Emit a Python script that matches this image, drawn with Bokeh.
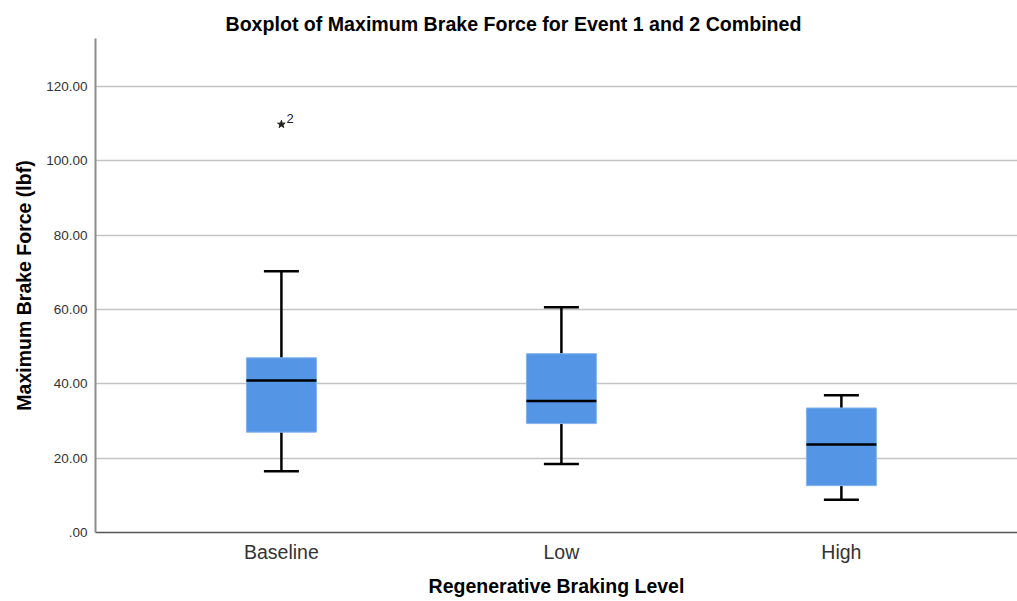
from bokeh.plotting import figure
from bokeh.models import FixedTicker, ColumnDataSource, Label
from bokeh.embed import file_html
from bokeh.resources import INLINE

categories = ["Baseline", "Low", "High"]
whisker_low = [16.5, 18.4, 8.8]
q1 = [27.0, 29.3, 12.6]
median = [40.9, 35.4, 23.7]
q3 = [47.0, 48.1, 33.5]
whisker_high = [70.3, 60.6, 36.9]
outlier_cat = [0]
outlier_val = [109.8]
outlier_label = ["2"]
y_ticks = [0, 20, 40, 60, 80, 100, 120]

xs = [i + 1 for i in range(len(categories))]
box_w = 0.25
cap_w = 0.125

p = figure(width=1017, height=601, output_backend="svg", toolbar_location=None,
           x_range=(0.336, 3.629), y_range=(0, 132.9),
           title="Boxplot of Maximum Brake Force for Event 1 and 2 Combined",
           min_border_left=95, min_border_right=0, min_border_top=38, min_border_bottom=69)

p.title.align = "left"
p.title.text_font = "Liberation Sans"
p.title.text_font_size = "19.6px"
p.title.text_font_style = "bold"
p.title.text_color = "#000000"
p.title.offset = 130
p.title.standoff = 8

src = ColumnDataSource(dict(x=xs, lo=whisker_low, q1=q1, med=median, q3=q3, hi=whisker_high))

# whiskers
p.segment(x0="x", y0="lo", x1="x", y1="q1", source=src, line_color="black", line_width=2.5)
p.segment(x0="x", y0="q3", x1="x", y1="hi", source=src, line_color="black", line_width=2.5)
caps_l = [x - cap_w / 2 for x in xs]
caps_r = [x + cap_w / 2 for x in xs]
p.segment(x0=caps_l, y0=whisker_low, x1=caps_r, y1=whisker_low, line_color="black", line_width=2.5)
p.segment(x0=caps_l, y0=whisker_high, x1=caps_r, y1=whisker_high, line_color="black", line_width=2.5)

# boxes
p.vbar(x="x", width=box_w, bottom="q1", top="q3", source=src,
       fill_color="#5595e5", line_color="#86b3ec", line_width=1)
p.segment(x0=[x - box_w / 2 for x in xs], y0=median, x1=[x + box_w / 2 for x in xs], y1=median,
          line_color="black", line_width=2.5)

# outlier
ox = [xs[i] for i in outlier_cat]
p.scatter(x=ox, y=outlier_val, marker="star", size=8, fill_color="#222222", line_color="#222222")
for xx, yy, t in zip(ox, outlier_val, outlier_label):
    p.add_layout(Label(x=xx, y=yy, text=t, x_offset=5, y_offset=1, text_font="Liberation Sans",
                       text_font_size="13px", text_color="#222222"))

# axes
p.yaxis.ticker = FixedTicker(ticks=y_ticks)
p.yaxis.major_label_overrides = {t: (".00" if t == 0 else f"{t:.2f}") for t in y_ticks}
p.xaxis.ticker = FixedTicker(ticks=xs)
p.xaxis.major_label_overrides = {x: c for x, c in zip(xs, categories)}

for ax in (p.xaxis, p.yaxis):
    ax.major_tick_line_color = None
    ax.minor_tick_line_color = None
    ax.axis_label_text_font = "Liberation Sans"
    ax.axis_label_text_font_style = "bold"
    ax.axis_label_text_font_size = "19.5px"
    ax.axis_label_text_color = "#000000"
    ax.major_label_text_font = "Liberation Sans"
    ax.major_label_text_color = "#333333"

p.yaxis.axis_label = "Maximum Brake Force (lbf)"
p.xaxis.axis_label = "Regenerative Braking Level"
p.yaxis.major_label_text_font_size = "13.5px"
p.xaxis.major_label_text_font_size = "19.5px"
p.yaxis.axis_line_color = "#8c8c8c"
p.yaxis.axis_line_width = 2
p.xaxis.axis_line_color = "#555555"
p.xaxis.axis_line_width = 1.5
p.yaxis.major_label_standoff = 2
p.xaxis.major_label_standoff = 2
p.xaxis.axis_label_standoff = 9
p.yaxis.axis_label_standoff = 8

p.xgrid.grid_line_color = None
p.ygrid.grid_line_color = "#c4c4c4"
p.ygrid.grid_line_width = 1.5
p.outline_line_color = None
p.background_fill_color = "white"
p.border_fill_color = "white"

open("out.html", "w").write(file_html(p, INLINE))
